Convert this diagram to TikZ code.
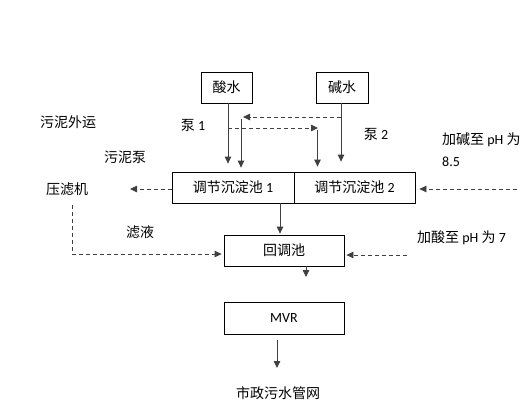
\documentclass[tikz,border=0pt]{standalone}
\usepackage{fontspec}
\setmainfont{Carlito}
\newfontfamily\cjk{Noto Sans CJK SC}
\newcommand\zh[1]{{\cjk #1}}
\usetikzlibrary{arrows.meta,calc}
\tikzset{
  box/.style={draw, line width=0.8bp, inner sep=0pt},
  lbl/.style={inner sep=0pt},
  arr/.style={draw=black!75, line width=0.8bp, -{Triangle[length=7bp,width=6.5bp]}},
  darr/.style={draw=black!75, line width=0.8bp, dash pattern=on 4bp off 3bp, -{Triangle[length=7bp,width=6.5bp]}},
}
\begin{document}
\begin{tikzpicture}[x=1bp,y=-1bp,font=\fontsize{14bp}{16bp}\selectfont]
\useasboundingbox (0,0) rectangle (532,408);
% boxes
\node[box, minimum width=51bp, minimum height=31bp] (acid) at (226.5,87.5) {\zh{酸水}};
\node[box, minimum width=52bp, minimum height=31bp] (alk) at (342,87.5) {\zh{碱水}};
\node[box, minimum width=122bp, minimum height=31bp] (t1) at (233,187.5) {\zh{调节沉淀池} 1};
\node[box, minimum width=121bp, minimum height=31bp] (t2) at (354.5,187.5) {\zh{调节沉淀池} 2};
\node[box, minimum width=120bp, minimum height=31bp] (hui) at (284,250.5) {\zh{回调池}};
\node[box, minimum width=120bp, minimum height=32bp] (mvr) at (284,318) {MVR};
% labels
\node[lbl] (p1) at (193,125) {\zh{泵} 1};
\node[lbl] (p2) at (376,134) {\zh{泵} 2};
\node[lbl] (out) at (68,122) {\zh{污泥外运}};
\node[lbl] (sp) at (125,157) {\zh{污泥泵}};
\node[lbl] (press) at (67,189) {\zh{压滤机}};
\node[lbl] (filt) at (140,232) {\zh{滤液}};
\node[lbl, anchor=west] (base) at (442,140) {\zh{加碱至} pH \zh{为}};
\node[lbl, anchor=west] (base2) at (442,162) {8.5};
\node[lbl, anchor=west] (acidadd) at (417,238) {\zh{加酸至} pH \zh{为} 7};
\node[lbl] (city) at (278,393) {\zh{市政污水管网}};
% coordinates
\coordinate (a1) at (228,128);
\coordinate (a2) at (318,128);
\coordinate (b1) at (341,117);
\coordinate (b2) at (241,117);
\coordinate (pr) at (130,189);
\coordinate (f1) at (72,205);
\coordinate (f2) at (72,254);
\coordinate (r1) at (517,189);
\coordinate (r2) at (407,255);
\coordinate (hd) at (306,277);
% solid flows
\draw[arr, shorten >=8bp] (acid.south -| a1) -- (a1 |- t1.north);
\draw[arr, shorten >=10bp] (alk.south -| b1) -- (b1 |- t1.north);
\draw[arr, shorten >=4bp] ($(b2)+(0,2)$) -- (b2 |- t1.north);
\draw[arr, shorten >=5bp] ($(a2)+(-0.5,2)$) -- ($(a2 |- t2.north)+(-0.5,0)$);
\draw[arr, shorten >=1bp] (280,0 |- t1.south) -- (280,0 |- hui.north);
\draw[arr] (hd |- hui.south) -- (hd);
\draw[arr, shorten <=6bp, shorten >=2bp] (277,0 |- mvr.south) -- (277,370);
% dashed flows
\draw[darr] (a1) -- (a2);
\draw[darr, shorten >=2bp] (b1) -- (b2);
\draw[darr] (t1.west |- pr) -- (pr);
\draw[darr, shorten >=2bp] (f1) |- (hui.west |- f2);
\draw[darr, shorten >=4bp] (r1) -- (t2.east |- r1);
\draw[darr, shorten >=2bp] (r2) -- (hui.east |- r2);
\end{tikzpicture}
\end{document}
